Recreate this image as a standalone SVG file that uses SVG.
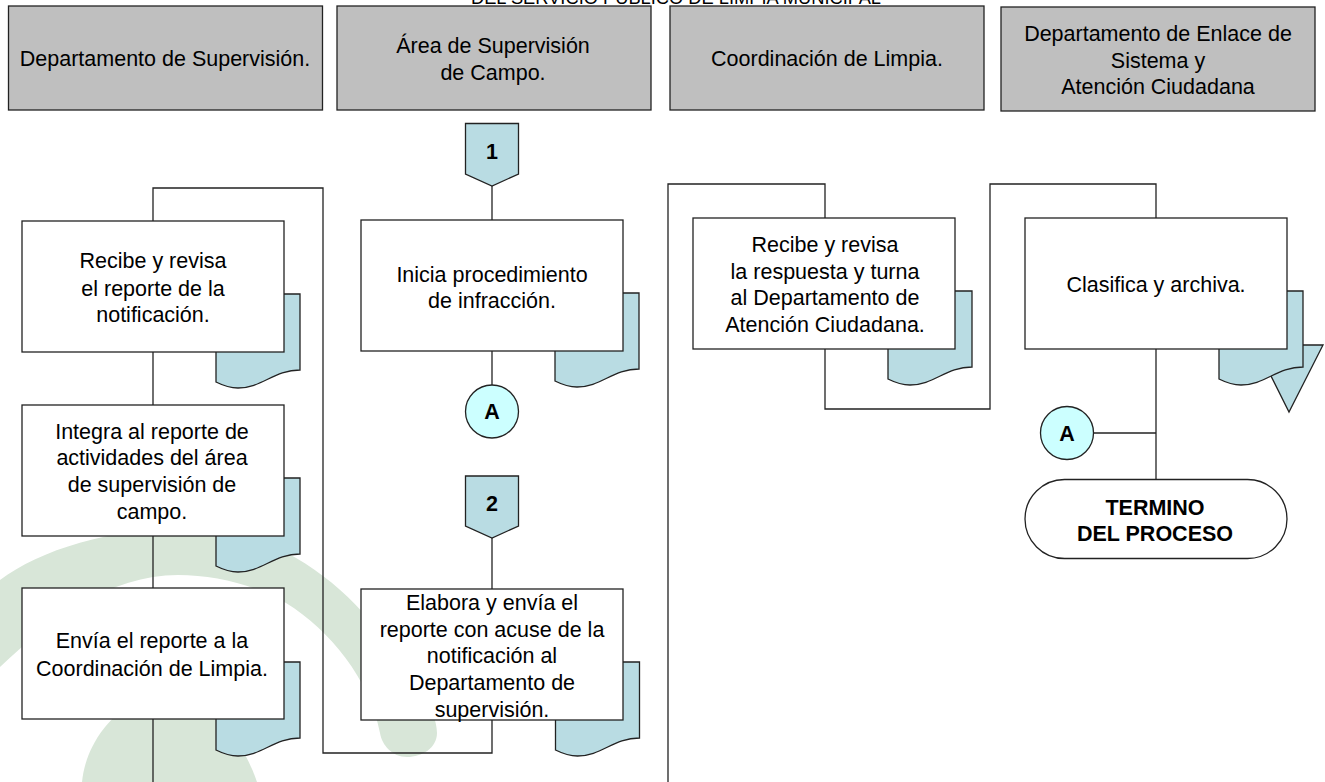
<svg xmlns="http://www.w3.org/2000/svg" width="1325" height="782" viewBox="0 0 1325 782">
<style>
text{font-family:"Liberation Sans",Arial,sans-serif;font-size:21.5px;fill:#000;text-anchor:middle}
.b{font-weight:bold}
.h{fill:#bfbfbf;stroke:#222;stroke-width:1.3}
.w{fill:#fff;stroke:#222;stroke-width:1.3}
.d{fill:#b9dce3;stroke:#222;stroke-width:1.3}
.c{fill:#ccffff;stroke:#222;stroke-width:1.3}
.l{fill:none;stroke:#222;stroke-width:1.3}
.wm{fill:#d8e6d8}
</style>
<defs>
<path id="doc" d="M0 0H84V76C58 76 46 94 22 94C14 94 6 91 0 88Z"/>
</defs>
<rect width="1325" height="782" fill="#fff"/>
<path class="wm" d="M0 580C40 550 110 528 190 528C280 528 350 590 385 640C415 680 437 710 437 733C437 748 422 757 407 757C392 757 382 745 380 733C370 680 330 630 286 603C255 585 215 575 178 575C110 575 50 620 0 667Z"/>
<path class="wm" d="M82 782C85 750 105 720 130 705C190 680 240 730 257 782Z"/>
<text x="676" y="4" style="font-size:18.3px">DEL SERVICIO PUBLICO DE LIMPIA MUNICIPAL</text>
<g id="connectors">
<path class="l" d="M153 221V188H323V753H492V720"/>
<path class="l" d="M153 352V405"/>
<path class="l" d="M153 536V588"/>
<path class="l" d="M153 719V782"/>
<path class="l" d="M492 186V220"/>
<path class="l" d="M492 351V385"/>
<path class="l" d="M492 538V589"/>
<path class="l" d="M825 218V184H668V782"/>
<path class="l" d="M825 349V409H990V184H1156V218"/>
<path class="l" d="M1156 349V480"/>
<path class="l" d="M1094 433H1156"/>
</g>
<g id="h1"><rect class="h" x="8.500" y="6" width="314" height="104"/><text x="165" y="66">Departamento de Supervisión.</text></g>
<g id="h2"><rect class="h" x="337" y="6" width="314" height="104"/><text x="493" y="53">Área de Supervisión</text><text x="493" y="80">de Campo.</text></g>
<g id="h3"><rect class="h" x="670" y="6" width="314" height="104"/><text x="827" y="66">Coordinación de Limpia.</text></g>
<g id="h4"><rect class="h" x="1001" y="7" width="314" height="104"/><text x="1158" y="41">Departamento de Enlace de</text><text x="1158" y="68">Sistema y</text><text x="1158" y="94">Atención Ciudadana</text></g>
<g id="off1"><path class="d" d="M465.500 123.500H518.500V174L492 186L465.500 174Z"/><text class="b" x="492" y="159">1</text></g>
<g id="off2"><path class="d" d="M465.500 476H518.500V526L492 538L465.500 526Z"/><text class="b" x="492" y="511">2</text></g>
<g id="n1"><use href="#doc" class="d" x="216" y="294"/><rect class="w" x="22" y="221" width="262" height="131"/><text x="153" y="268">Recibe y revisa</text><text x="153" y="296">el reporte de la</text><text x="153" y="322">notificación.</text></g>
<g id="n2"><use href="#doc" class="d" x="555" y="293"/><rect class="w" x="361" y="220" width="262" height="131"/><text x="492" y="282">Inicia procedimiento</text><text x="492" y="308">de infracción.</text></g>
<g id="n3"><use href="#doc" class="d" x="888" y="291"/><rect class="w" x="693" y="218" width="262" height="131"/><text x="825" y="252">Recibe y revisa</text><text x="825" y="279">la respuesta y turna</text><text x="825" y="305">al Departamento de</text><text x="825" y="332">Atención Ciudadana.</text></g>
<g id="n4"><path class="d" d="M1255.500 345H1323L1289 412Z"/><use href="#doc" class="d" x="1219" y="291"/><rect class="w" x="1025" y="218" width="262" height="131"/><text x="1156" y="292">Clasifica y archiva.</text></g>
<g id="n5"><use href="#doc" class="d" x="216" y="478"/><rect class="w" x="22" y="405" width="262" height="131"/><text x="152" y="439">Integra al reporte de</text><text x="152" y="465">actividades del área</text><text x="152" y="492">de supervisión de</text><text x="152" y="519">campo.</text></g>
<g id="n6"><use href="#doc" class="d" x="216" y="662"/><rect class="w" x="22" y="588" width="262" height="131"/><text x="152" y="648">Envía el reporte a la</text><text x="152" y="676">Coordinación de Limpia.</text></g>
<g id="n7"><use href="#doc" class="d" x="555.500" y="662"/><rect class="w" x="361" y="589" width="262" height="131"/><text x="492" y="610">Elabora y envía el</text><text x="492" y="637">reporte con acuse de la</text><text x="492" y="663">notificación al</text><text x="492" y="690">Departamento de</text><text x="492" y="717">supervisión.</text></g>
<g id="term"><rect class="w" x="1025" y="479.500" width="262" height="79" rx="39.500" ry="39.500"/><text class="b" x="1155" y="515">TERMINO</text><text class="b" x="1155" y="541">DEL PROCESO</text></g>
<g id="ca"><circle class="c" cx="492" cy="411.500" r="26.500"/><text class="b" x="492" y="419">A</text></g>
<g id="cb"><circle class="c" cx="1067" cy="433" r="26.500"/><text class="b" x="1067" y="441">A</text></g>
</svg>
